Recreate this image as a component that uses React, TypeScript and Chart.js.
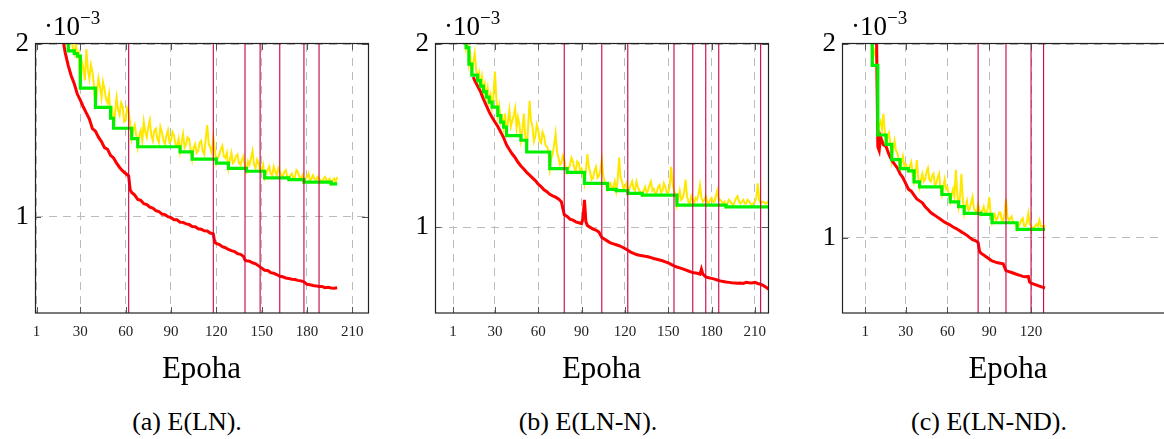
import React, { useEffect, useRef } from "react";
import { Chart, registerables } from "chart.js";
Chart.register(...registerables);

// ---------- shared ticks ----------
const xTicksAB = [1, 30, 60, 90, 120, 150, 180, 210];
const xTicksC = [1, 30, 60, 90, 120];
const yTicks = [1, 2];

// ---------- panel (a) E(LN) ----------
const redAx = [12, 14, 16, 18, 20, 22, 24, 26, 28, 30, 32, 34, 36, 38, 40, 42, 44, 46, 48, 50, 52, 54, 56, 58, 60, 62, 63, 64, 66, 68, 70, 72, 74, 76, 78, 80, 82, 84, 86, 88, 90, 92, 94, 96, 98, 100, 102, 104, 106, 108, 110, 112, 114, 116, 118, 119, 120, 122, 124, 126, 128, 130, 132, 134, 136, 138, 139, 140, 142, 144, 146, 148, 150, 152, 154, 156, 158, 160, 162, 164, 166, 168, 170, 172, 174, 176, 178, 180, 182, 184, 186, 188, 190, 192, 194, 196, 198, 200];
const redAy = [2.55, 2.35, 2.2, 2.05, 1.95, 1.875, 1.815, 1.77, 1.71, 1.675, 1.635, 1.6, 1.565, 1.51, 1.495, 1.46, 1.435, 1.4, 1.39, 1.355, 1.34, 1.31, 1.285, 1.265, 1.25, 1.235, 1.155, 1.14, 1.125, 1.1, 1.095, 1.075, 1.07, 1.055, 1.05, 1.035, 1.03, 1.015, 1.012, 1.0, 0.995, 0.982, 0.982, 0.968, 0.967, 0.958, 0.955, 0.943, 0.942, 0.93, 0.927, 0.918, 0.917, 0.905, 0.9, 0.85, 0.845, 0.838, 0.826, 0.82, 0.81, 0.803, 0.798, 0.786, 0.782, 0.77, 0.748, 0.745, 0.742, 0.733, 0.727, 0.715, 0.702, 0.69, 0.688, 0.676, 0.672, 0.665, 0.655, 0.652, 0.645, 0.642, 0.638, 0.636, 0.631, 0.628, 0.622, 0.608, 0.606, 0.601, 0.599, 0.596, 0.595, 0.589, 0.591, 0.587, 0.585, 0.588];
const yellowAStart = 16; // one value per epoch from here
const yellowAy = [
  2.25, 2.2, 2.18, 2.12, 2.04, 2.08, 1.96, 2.05, 2.03, 1.98, 1.945, 2.0, 1.93, 1.95, 1.745, 1.9, 1.86, 1.79, 1.97, 1.85,
  1.8, 1.88, 1.84, 1.76, 1.633, 1.72, 1.8, 1.75, 1.69, 1.78, 1.74, 1.68, 1.66, 1.71, 1.57, 1.64, 1.512, 1.6, 1.69, 1.62,
  1.59, 1.66, 1.64, 1.55, 1.56, 1.63, 1.61, 1.54, 1.452, 1.5, 1.53, 1.47, 1.405, 1.47, 1.5, 1.44, 1.55, 1.49, 1.46, 1.52,
  1.56, 1.47, 1.44, 1.5, 1.51, 1.45, 1.43, 1.52, 1.49, 1.44, 1.42, 1.47, 1.5, 1.43, 1.44, 1.49, 1.47, 1.42, 1.41, 1.45,
  1.375, 1.43, 1.48, 1.4, 1.42, 1.46, 1.45, 1.39, 1.333, 1.4, 1.42, 1.37, 1.38, 1.43, 1.44, 1.38, 1.36, 1.45, 1.53, 1.42,
  1.4, 1.37, 1.46, 1.39, 1.31, 1.34, 1.36, 1.39, 1.41, 1.35, 1.34, 1.37, 1.28, 1.33, 1.37, 1.31, 1.32, 1.35, 1.36, 1.31,
  1.3, 1.33, 1.35, 1.29, 1.263, 1.32, 1.3, 1.34, 1.38, 1.3, 1.28, 1.33, 1.31, 1.27, 1.27, 1.3, 1.225, 1.25, 1.27, 1.29,
  1.25, 1.24, 1.29, 1.26, 1.24, 1.28, 1.26, 1.24, 1.23, 1.26, 1.27, 1.23, 1.215, 1.24, 1.25, 1.22, 1.23, 1.27, 1.26, 1.23,
  1.22, 1.24, 1.2, 1.22, 1.23, 1.25, 1.21, 1.22, 1.24, 1.22, 1.21, 1.23, 1.22, 1.21, 1.2, 1.22, 1.23, 1.21, 1.21, 1.22,
  1.19, 1.21, 1.22, 1.2, 1.23,
];
const greenAx = [16, 20, 22, 26, 28, 30, 40, 50, 52, 64, 68, 96, 104, 120, 128, 140, 152, 168, 178, 196, 200];
const greenAy = [2.25, 2.04, 1.96, 1.945, 1.93, 1.745, 1.633, 1.57, 1.512, 1.452, 1.405, 1.375, 1.333, 1.31, 1.28, 1.263, 1.225, 1.215, 1.2, 1.19, 1.19];
const vlinesA = [62, 118, 139, 149, 162, 178, 188];

// ---------- panel (b) E(LN-N) ----------
const redBx = [15, 16, 18, 20, 22, 24, 26, 28, 30, 32, 34, 36, 38, 40, 42, 44, 46, 48, 50, 52, 54, 56, 58, 60, 62, 64, 66, 68, 70, 72, 74, 76, 78, 80, 82, 84, 86, 88, 90, 91, 92, 93, 94, 96, 98, 100, 102, 104, 106, 108, 110, 112, 114, 116, 118, 120, 122, 124, 126, 128, 130, 132, 134, 136, 138, 140, 142, 144, 146, 148, 150, 152, 154, 156, 158, 160, 162, 164, 166, 168, 170, 172, 173, 174, 176, 178, 180, 182, 184, 186, 188, 190, 192, 194, 196, 198, 200, 202, 204, 206, 208, 210, 212, 214, 216, 218, 220];
const redBy = [1.82, 1.8, 1.77, 1.74, 1.7, 1.665, 1.63, 1.6, 1.575, 1.55, 1.52, 1.49, 1.45, 1.425, 1.4, 1.38, 1.355, 1.335, 1.318, 1.3, 1.285, 1.27, 1.255, 1.235, 1.222, 1.205, 1.195, 1.18, 1.172, 1.165, 1.155, 1.14, 1.07, 1.06, 1.045, 1.04, 1.03, 1.025, 1.02, 1.05, 1.15, 1.03, 1.01, 1.0, 0.99, 0.985, 0.975, 0.945, 0.935, 0.925, 0.915, 0.91, 0.905, 0.9, 0.893, 0.885, 0.875, 0.865, 0.858, 0.852, 0.848, 0.845, 0.842, 0.84, 0.835, 0.83, 0.826, 0.822, 0.818, 0.812, 0.806, 0.798, 0.79, 0.784, 0.779, 0.774, 0.768, 0.762, 0.756, 0.752, 0.75, 0.745, 0.772, 0.745, 0.73, 0.725, 0.722, 0.718, 0.713, 0.708, 0.705, 0.702, 0.7, 0.698, 0.697, 0.695, 0.696, 0.694, 0.7, 0.698, 0.697, 0.7, 0.694, 0.69, 0.682, 0.672, 0.66];
const yellowBStart = 8;
const yellowBy = [
  2.2, 2.1, 1.98, 2.02, 1.89, 1.93, 1.83, 1.9, 1.95, 1.86, 1.8, 1.84, 1.77, 1.82, 1.74, 1.78, 1.71, 1.76, 1.683, 1.72,
  1.656, 1.72, 1.85, 1.7, 1.61, 1.66, 1.574, 1.6, 1.547, 1.62, 1.5, 1.58, 1.64, 1.55, 1.58, 1.61, 1.65, 1.54, 1.6, 1.56,
  1.475, 1.53, 1.62, 1.5, 1.411, 1.55, 1.69, 1.58, 1.55, 1.47, 1.5, 1.56, 1.53, 1.47, 1.46, 1.52, 1.5, 1.45, 1.44, 1.42,
  1.32, 1.38, 1.4, 1.45, 1.51, 1.41, 1.38, 1.34, 1.35, 1.39, 1.37, 1.33, 1.3, 1.32, 1.34, 1.38, 1.36, 1.32, 1.31, 1.36,
  1.35, 1.31, 1.32, 1.29, 1.24, 1.31, 1.4, 1.33, 1.3, 1.26, 1.27, 1.31, 1.33, 1.27, 1.28, 1.31, 1.37, 1.28, 1.25, 1.23,
  1.207, 1.23, 1.24, 1.21, 1.22, 1.25, 1.2, 1.26, 1.38, 1.27, 1.25, 1.21, 1.22, 1.24, 1.185, 1.21, 1.23, 1.25, 1.21, 1.2,
  1.25, 1.22, 1.2, 1.19, 1.176, 1.2, 1.22, 1.19, 1.2, 1.23, 1.25, 1.2, 1.21, 1.18, 1.19, 1.22, 1.23, 1.19, 1.2, 1.24,
  1.22, 1.19, 1.19, 1.22, 1.33, 1.24, 1.2, 1.18, 1.121, 1.16, 1.2, 1.15, 1.16, 1.19, 1.26, 1.17, 1.14, 1.13, 1.17, 1.15,
  1.13, 1.16, 1.15, 1.18, 1.23, 1.16, 1.14, 1.15, 1.17, 1.14, 1.13, 1.15, 1.16, 1.14, 1.14, 1.17, 1.2, 1.15, 1.15, 1.14,
  1.13, 1.14, 1.112, 1.13, 1.15, 1.14, 1.13, 1.12, 1.14, 1.16, 1.17, 1.14, 1.13, 1.14, 1.15, 1.13, 1.13, 1.15, 1.14, 1.13,
  1.12, 1.13, 1.14, 1.16, 1.24, 1.15, 1.13, 1.14, 1.14, 1.13, 1.13, 1.14, 1.14,
];
const greenBx = [8, 10, 12, 14, 18, 20, 22, 24, 26, 28, 32, 34, 36, 38, 48, 52, 68, 80, 92, 108, 114, 122, 132, 156, 190, 220];
const greenBy = [2.2, 1.98, 1.89, 1.83, 1.8, 1.77, 1.74, 1.71, 1.683, 1.656, 1.61, 1.574, 1.547, 1.5, 1.475, 1.411, 1.32, 1.3, 1.24, 1.207, 1.2, 1.185, 1.176, 1.121, 1.112, 1.112];
const vlinesB = [78, 104, 122, 154, 167, 176, 185, 214];

// ---------- panel (c) E(LN-ND) ----------
const redCx = [8, 9, 10, 11, 12, 14, 16, 18, 20, 22, 24, 26, 28, 30, 32, 34, 36, 38, 40, 42, 44, 46, 48, 50, 52, 54, 56, 58, 60, 62, 64, 66, 68, 70, 72, 74, 76, 78, 80, 82, 83, 84, 86, 88, 90, 92, 94, 96, 98, 100, 102, 104, 106, 108, 110, 112, 114, 116, 118, 119, 120, 122, 124, 126, 128, 130];
const redCy = [2.5, 2.1, 1.47, 1.45, 1.52, 1.48, 1.47, 1.43, 1.4, 1.38, 1.36, 1.33, 1.31, 1.28, 1.25, 1.24, 1.22, 1.2, 1.19, 1.18, 1.16, 1.145, 1.13, 1.12, 1.11, 1.1, 1.09, 1.08, 1.072, 1.065, 1.055, 1.048, 1.04, 1.03, 1.022, 1.012, 1.0, 0.99, 0.985, 0.975, 0.93, 0.92, 0.91, 0.9, 0.89, 0.88, 0.875, 0.87, 0.868, 0.865, 0.83, 0.825, 0.82, 0.815, 0.81, 0.805, 0.8, 0.798, 0.8, 0.77, 0.765, 0.76, 0.755, 0.75, 0.745, 0.74];
const yellowCStart = 4;
const yellowCy = [
  2.4, 2.1, 1.89, 1.95, 1.97, 1.92, 1.53, 1.58, 1.6, 1.56, 1.64, 1.55, 1.482, 1.52, 1.54, 1.49, 1.403, 1.46, 1.5, 1.45,
  1.44, 1.4, 1.357, 1.39, 1.42, 1.37, 1.38, 1.36, 1.345, 1.37, 1.39, 1.33, 1.288, 1.33, 1.4, 1.31, 1.262, 1.3, 1.33, 1.29,
  1.3, 1.34, 1.36, 1.3, 1.29, 1.32, 1.33, 1.27, 1.28, 1.31, 1.33, 1.26, 1.223, 1.26, 1.3, 1.25, 1.26, 1.22, 1.185, 1.22,
  1.25, 1.21, 1.35, 1.23, 1.16, 1.21, 1.33, 1.2, 1.125, 1.16, 1.19, 1.14, 1.15, 1.18, 1.21, 1.15, 1.14, 1.13, 1.17, 1.14,
  1.12, 1.14, 1.16, 1.13, 1.13, 1.15, 1.21, 1.12, 1.077, 1.1, 1.12, 1.09, 1.1, 1.13, 1.13, 1.09, 1.09, 1.12, 1.2, 1.11,
  1.09, 1.1, 1.11, 1.08, 1.08, 1.07, 1.043, 1.06, 1.07, 1.09, 1.1, 1.06, 1.06, 1.08, 1.125, 1.07, 1.06, 1.05, 1.05, 1.06,
  1.07, 1.06, 1.09, 1.06, 1.06, 1.05, 1.065,
];
const greenCx = [4, 6, 10, 16, 20, 26, 32, 36, 40, 56, 62, 68, 72, 84, 92, 110, 130];
const greenCy = [2.4, 1.89, 1.53, 1.482, 1.403, 1.357, 1.345, 1.288, 1.262, 1.223, 1.185, 1.16, 1.125, 1.12, 1.077, 1.043, 1.043];
const vlinesC = [82, 102, 120, 129];

const SERIF = '"Liberation Serif", "Times New Roman", Times, serif';

const toPts = (xs: number[], ys: number[]) => xs.map((x, i) => ({ x, y: ys[i] }));
const perEpoch = (start: number, ys: number[]) => ys.map((y, i) => ({ x: start + i, y }));

const framePlugin = {
  id: "frame",
  afterDatasetsDraw(chart: any, _args: any, opts: any) {
    const { ctx, chartArea: a, scales } = chart;
    const x = scales.x;
    const y = scales.y;
    ctx.save();
    ctx.strokeStyle = "#c8003e";
    ctx.lineWidth = 1.1;
    for (const v of opts.vlines || []) {
      const px = x.getPixelForValue(v);
      ctx.beginPath();
      ctx.moveTo(px, a.top);
      ctx.lineTo(px, a.bottom);
      ctx.stroke();
    }
    ctx.strokeStyle = "#555";
    ctx.lineWidth = 1;
    const tl = 6;
    for (const t of x.ticks) {
      const px = Math.round(x.getPixelForValue(t.value)) + 0.5;
      ctx.beginPath();
      ctx.moveTo(px, a.bottom);
      ctx.lineTo(px, a.bottom - tl);
      ctx.moveTo(px, a.top);
      ctx.lineTo(px, a.top + tl);
      ctx.stroke();
    }
    for (const t of y.ticks) {
      const py = Math.round(y.getPixelForValue(t.value)) + 0.5;
      ctx.beginPath();
      ctx.moveTo(a.left, py);
      ctx.lineTo(a.left + tl, py);
      ctx.moveTo(a.right, py);
      ctx.lineTo(a.right - tl, py);
      ctx.stroke();
    }
    ctx.strokeStyle = "#222";
    ctx.lineWidth = 1.2;
    ctx.strokeRect(Math.round(a.left) + 0.5, Math.round(a.top) - 0.5, Math.round(a.right - a.left), Math.round(a.bottom - a.top) + 0.5);
    ctx.restore();
  },
};

type PanelProps = {
  left: number;
  width: number;
  yAxisW: number;
  padRight: number;
  xmin: number;
  xmax: number;
  ymin: number;
  xticks: number[];
  red: { x: number; y: number }[];
  yellow: { x: number; y: number }[];
  green: { x: number; y: number }[];
  vlines: number[];
  caption: string;
  captionCenter: number;
};

const H = 400;
const PLOT_TOP = 44;
const PLOT_BOTTOM = 313;

function Panel(p: PanelProps) {
  const ref = useRef<HTMLCanvasElement | null>(null);
  useEffect(() => {
    if (!ref.current) return;
    const chart = new Chart(ref.current, {
      type: "line",
      data: {
        datasets: [
          { label: "best", data: p.green, borderColor: "#00f000", borderWidth: 3.2, stepped: "before", pointRadius: 0, order: 0, clip: 0, fill: false },
          { label: "train", data: p.red, borderColor: "#ff0000", borderWidth: 3, pointRadius: 0, order: 1, clip: 0, fill: false, tension: 0 },
          { label: "val", data: p.yellow, borderColor: "#ffe800", borderWidth: 2, pointRadius: 0, order: 2, clip: 0, fill: false, tension: 0, borderJoinStyle: "miter" },
        ],
      },
      options: {
        animation: false,
        responsive: false,
        maintainAspectRatio: false,
        events: [],
        layout: { padding: { left: 0, top: PLOT_TOP, right: p.padRight, bottom: 0 } },
        plugins: {
          legend: { display: false },
          tooltip: { enabled: false },
          frame: { vlines: p.vlines },
        } as any,
        scales: {
          x: {
            type: "linear",
            min: p.xmin,
            max: p.xmax,
            afterBuildTicks: (s: any) => {
              s.ticks = p.xticks.map((v) => ({ value: v }));
            },
            afterFit: (s: any) => {
              s.height = H - PLOT_BOTTOM;
            },
            grid: { color: "#bcbcbc", lineWidth: 1, drawTicks: false },
            border: { display: false, dash: [8, 6] },
            ticks: {
              autoSkip: false,
              maxRotation: 0,
              padding: 10,
              color: "#222",
              font: { family: SERIF, size: 15 },
              callback: (v: any) => String(v),
            },
            title: {
              display: true,
              text: "Epoha",
              color: "#000",
              font: { family: SERIF, size: 31 },
              padding: { top: 0, bottom: 12 },
            },
          },
          y: {
            type: "linear",
            min: p.ymin,
            max: 2,
            afterBuildTicks: (s: any) => {
              s.ticks = yTicks.map((v) => ({ value: v }));
            },
            afterFit: (s: any) => {
              s.width = p.yAxisW;
            },
            grid: { color: "#bcbcbc", lineWidth: 1, drawTicks: false },
            border: { display: false, dash: [8, 6] },
            ticks: {
              padding: 6,
              color: "#000",
              font: { family: SERIF, size: 27 },
              callback: (v: any) => String(v),
            },
          },
        },
      },
      plugins: [framePlugin],
    } as any);
    return () => chart.destroy();
  }, []);

  const plotLeft = p.left + p.yAxisW;
  return (
    <>
      <canvas
        ref={ref}
        width={p.width}
        height={H}
        style={{ position: "absolute", left: p.left, top: 0, width: p.width, height: H }}
      />
      <div
        style={{
          position: "absolute",
          left: plotLeft + 9,
          top: 13,
          fontFamily: SERIF,
          fontSize: 27,
          lineHeight: "26px",
          whiteSpace: "nowrap",
          color: "#000",
        }}
      >
        ·10
        <span style={{ fontSize: 19, position: "relative", top: -11 }}>−3</span>
      </div>
      <div
        style={{
          position: "absolute",
          left: p.captionCenter - 150,
          width: 300,
          top: 409,
          textAlign: "center",
          fontFamily: SERIF,
          fontSize: 26,
          lineHeight: "26px",
          whiteSpace: "nowrap",
          color: "#000",
        }}
      >
        {p.caption}
      </div>
    </>
  );
}

export default function App() {
  return (
    <div
      style={{
        position: "fixed",
        left: 0,
        top: 0,
        width: 1164,
        height: 439,
        overflow: "hidden",
        background: "#fff",
      }}
    >
      <Panel
        left={0}
        width={380}
        yAxisW={35}
        padRight={12}
        xmin={0}
        xmax={220.4}
        ymin={0.442}
        xticks={xTicksAB}
        red={toPts(redAx, redAy)}
        yellow={perEpoch(yellowAStart, yellowAy)}
        green={toPts(greenAx, greenAy)}
        vlines={vlinesA}
        caption="(a) E(LN)."
        captionCenter={187}
      />
      <Panel
        left={395}
        width={385}
        yAxisW={40}
        padRight={12}
        xmin={-11.5}
        xmax={219.1}
        ymin={0.533}
        xticks={xTicksAB}
        red={toPts(redBx, redBy)}
        yellow={perEpoch(yellowBStart, yellowBy)}
        green={toPts(greenBx, greenBy)}
        vlines={vlinesB}
        caption="(b) E(LN-N)."
        captionCenter={588}
      />
      <Panel
        left={800}
        width={390}
        yAxisW={42}
        padRight={16}
        xmin={-15.7}
        xmax={222.6}
        ymin={0.611}
        xticks={xTicksC}
        red={toPts(redCx, redCy)}
        yellow={perEpoch(yellowCStart, yellowCy)}
        green={toPts(greenCx, greenCy)}
        vlines={vlinesC}
        caption="(c) E(LN-ND)."
        captionCenter={989}
      />
    </div>
  );
}
